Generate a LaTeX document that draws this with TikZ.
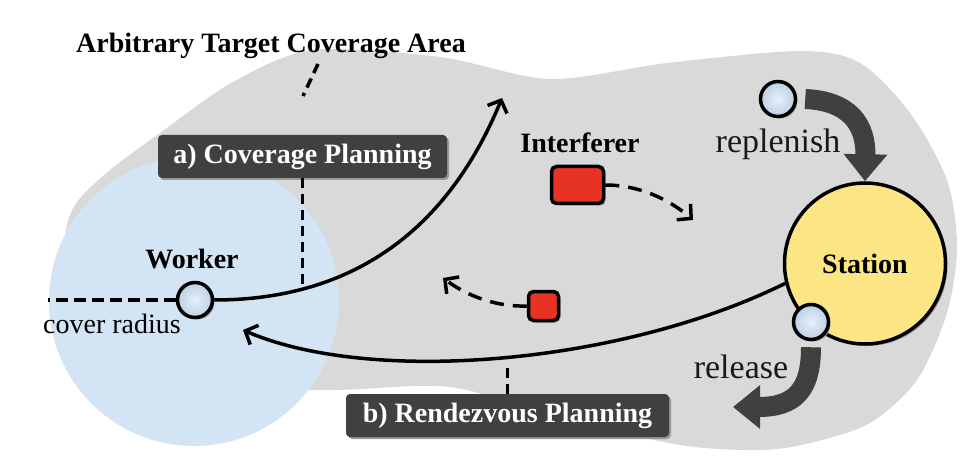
\documentclass[tikz,border=0pt]{standalone}
\usepackage{fontspec}
\newfontfamily\diagfont{Liberation Serif}
\newfontfamily\diagbold{Liberation Serif Bold}
\usetikzlibrary{arrows.meta,shadows}

\definecolor{areagray}{HTML}{D9D9D9}
\definecolor{coverblue}{HTML}{D3E4F4}
\definecolor{dotblue}{HTML}{C6DEF5}
\definecolor{boxgray}{HTML}{404040}
\definecolor{jamred}{HTML}{E73323}
\definecolor{stationyellow}{HTML}{FCE584}

\tikzset{
  softshadow/.style={general shadow={fill=black!30!areagray,shadow xshift=2pt,shadow yshift=-2pt}},
  boldlbl/.style={font=\fontsize{28}{32}\selectfont\diagbold},
  plainlbl/.style={font=\fontsize{28}{32}\selectfont\diagfont},
  biglbl/.style={font=\fontsize{34}{38}\selectfont\diagfont,text=black!90},
  planbox/.style={rounded corners=4pt,fill=boxgray,text=white,
    font=\fontsize{28}{32}\selectfont\diagbold,minimum height=43pt,softshadow},
  dot/.style={circle,draw,line width=3.5pt,inner color=white!55!dotblue,outer color=dotblue!85!gray,
    minimum size=35pt,inner sep=0pt,softshadow},
  jam/.style={draw,line width=3.5pt,fill=jamred,rounded corners=5pt,inner sep=0pt,softshadow},
  route/.style={line width=3.5pt,->},
  jampath/.style={line width=3.5pt,dash pattern=on 14pt off 9pt,->},
  pointer/.style={line width=3.5pt,dash pattern=on 10pt off 6pt},
  flow/.style={draw=boxgray,line width=20pt,-{Triangle[length=27pt,width=42pt]}}
}

\begin{document}
\begin{tikzpicture}[x=1pt,y=-1pt,>={Straight Barb[length=10pt,width=21pt]}]
    \useasboundingbox (0,0) rectangle (970,468);
    % target area and cover radius
    \fill[areagray] plot[smooth cycle] coordinates{
      (313,50) (440,57) (550,79) (667,63) (800,51) (860,63) (910,113)
      (947,180) (957,247) (947,313) (917,380) (870,423) (810,443)
      (760,450) (680,445) (560,418) (450,387) (330,390) (200,385)
      (90,320) (66,245) (75,205) (110,170) (160,133) (233,82)};
    \fill[coverblue] (194,301) circle (145);
    % nodes
    \node[boldlbl,anchor=base] (title) at (271,53) {Arbitrary Target Coverage Area};
    \node[planbox,minimum width=289pt] (abox) at (302.5,156.5) {a) Coverage Planning};
    \node[planbox,minimum width=323pt] (bbox) at (507.5,415.5) {b) Rendezvous Planning};
    \node[dot] (worker) at (195,300) {};
    \node[boldlbl,anchor=base] (wlbl) at (192,268) {Worker};
    \node[plainlbl,anchor=base] (rlbl) at (112,333) {cover radius};
    \node[boldlbl,anchor=base] (ilbl) at (580,153) {Interferer};
    \node[jam,minimum width=52pt,minimum height=37pt] (jambig) at (577.5,185) {};
    \node[jam,minimum width=30pt,minimum height=29pt] (jamsmall) at (543.5,306) {};
    \node[circle,draw,line width=3.5pt,fill=stationyellow,minimum size=161pt,inner sep=0pt,
      boldlbl,softshadow] (station) at (865,263.5) {Station};
    \node[dot] (topdot) at (778,99) {};
    \node[dot] (relsdot) at (811,322) {};
    \node[biglbl,anchor=base] (replbl) at (778,153) {replenish};
    \node[biglbl,anchor=base] (rellbl) at (741,378) {release};
    % free ends
    \coordinate (areatip) at (303,96);
    \coordinate (areastart) at (318,64);
    \coordinate (radend) at (48,300);
    \coordinate (wtip) at (502,98);
    \coordinate (acut) at (302.5,288);
    \coordinate (stip) at (243,330);
    \coordinate (bcut) at (507.5,362);
    \coordinate (jtipa) at (693,220);
    \coordinate (jtipb) at (443,278);
    \coordinate (relsend) at (733,407);
    % connectors
    \draw[pointer] (areastart) -- (areatip);
    \draw[line width=4pt,dash pattern=on 12pt off 6pt] (worker.west) -- (radend);
    \draw[route] (worker.east) .. controls (380,300) and (460,200) .. (wtip);
    \draw[route] (station.194) .. controls (620,365) and (370,385) .. (stip);
    \draw[pointer] (abox.south) -- (acut);
    \draw[pointer] (bbox.north) -- (bcut);
    \draw[jampath] (jambig.east) .. controls (640,185) and (670,200) .. (jtipa);
    \draw[jampath] (jamsmall.west) .. controls (500,307) and (470,298) .. (jtipb);
    \draw[flow] ([xshift=8pt]topdot.east) .. controls (850,101) and (866,125) .. (station.north);
    \draw[flow] ([yshift=-6pt]relsdot.south) .. controls (811,390) and (795,407) .. (relsend);
\end{tikzpicture}
\end{document}
